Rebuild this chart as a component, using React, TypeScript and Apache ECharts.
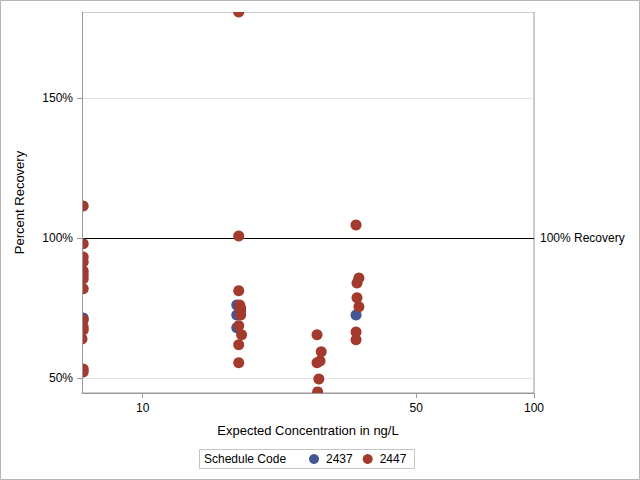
import React, { useEffect, useRef } from "react";
import * as echarts from "echarts";

const seriesNames = ["2437", "2447"];
const seriesColors = ["#445694", "#A23A2E"];

// Schedule 2437
const conc2437 = [7.05, 17.4, 17.4, 17.4, 35.1];
const recov2437 = [71.4, 76.0, 72.5, 67.9, 72.5];

// Schedule 2447
const conc2447 = [
  7.05, 7.05, 7.05, 7.05, 7.05, 7.05, 7.05, 7.05, 7.05, 7.05, 7.05, 7.0, 7.05, 7.05,
  17.6, 17.6, 17.6, 17.7, 17.8, 17.8, 17.8, 17.6, 17.9, 17.6, 17.6,
  27.9, 28.6, 28.4, 27.9, 28.2, 28.0,
  35.1, 35.7, 35.3, 35.3, 35.7, 35.1, 35.1,
];
const recov2447 = [
  111.4, 97.9, 93.2, 91.4, 88.2, 86.8, 85.4, 81.8, 70.7, 68.2, 67.1, 63.9, 53.2, 52.1,
  180.7, 100.7, 81.1, 76.0, 75.0, 74.0, 72.5, 68.6, 65.4, 61.8, 55.4,
  65.4, 59.3, 56.0, 55.4, 49.6, 45.0,
  104.6, 85.7, 83.9, 78.6, 75.4, 66.4, 63.6,
];

const xMin = 7;
const xMax = 100;
const xTicks = [10, 50, 100];
const yMin = 44.6;
const yMax = 180.7;
const yTicks = [50, 100, 150];
const referenceValue = 100;
const referenceLabel = "100% Recovery";
const xTitle = "Expected Concentration in ng/L";
const yTitle = "Percent Recovery";
const legendTitle = "Schedule Code";

const FONT = "'Liberation Sans', Arial, sans-serif";
const AXIS_GRAY = "#9a9a9a";

const GRID_LEFT = 82;
const GRID_TOP = 12;
const GRID_W = 452;
const GRID_H = 381;

export default function App() {
  const ref = useRef<HTMLDivElement>(null);

  useEffect(() => {
    if (!ref.current) return;
    const chart = echarts.init(ref.current, undefined, { renderer: "svg" });
    const toPts = (xs: number[], ys: number[]) => xs.map((x, i) => [Math.log10(x), ys[i]]);
    const mask = (x: number, y: number, w: number, h: number) => ({
      type: "rect",
      silent: true,
      z: 5,
      shape: { x, y, width: w, height: h },
      style: { fill: "#fff", stroke: "none" },
    });

    chart.setOption({
      animation: false,
      backgroundColor: "#fff",
      textStyle: { fontFamily: FONT },
      grid: {
        left: GRID_LEFT,
        top: GRID_TOP,
        width: GRID_W,
        height: GRID_H,
        show: true,
        borderColor: AXIS_GRAY,
        borderWidth: 1,
        backgroundColor: "transparent",
      },
      xAxis: {
        type: "value",
        z: 10,
        min: Math.log10(xMin),
        max: Math.log10(xMax),
        name: xTitle,
        nameLocation: "middle",
        nameGap: 31,
        nameTextStyle: { fontSize: 13, color: "#000", fontFamily: FONT },
        axisLine: { show: true, lineStyle: { color: AXIS_GRAY } },
        axisTick: { show: true, length: 5, lineStyle: { color: AXIS_GRAY }, customValues: xTicks.map((v) => Math.log10(v)) },
        axisLabel: {
          customValues: xTicks.map((v) => Math.log10(v)),
          formatter: (v: number) => String(Math.round(Math.pow(10, v))),
          fontSize: 12,
          color: "#000",
          margin: 9,
          fontFamily: FONT,
        },
        splitLine: { show: false },
      },
      yAxis: {
        type: "value",
        z: 10,
        min: yMin,
        max: yMax,
        name: yTitle,
        nameLocation: "middle",
        nameGap: 56,
        nameTextStyle: { fontSize: 13, color: "#000", fontFamily: FONT },
        axisLine: { show: true, lineStyle: { color: AXIS_GRAY } },
        axisTick: { show: true, length: 5, lineStyle: { color: AXIS_GRAY }, customValues: yTicks },
        axisLabel: {
          customValues: yTicks,
          formatter: (v: number) => `${v}%`,
          fontSize: 12,
          color: "#000",
          margin: 9,
          fontFamily: FONT,
        },
        splitLine: { show: false },
      },
      legend: {
        z: 10,
        data: seriesNames,
        left: 309,
        top: 453,
        padding: 0,
        itemWidth: 14,
        itemHeight: 10,
        itemGap: 10,
        icon: "circle",
        textStyle: { fontSize: 12, color: "#000", fontFamily: FONT },
      },
      graphic: [
        // white masks that clip the markers to the plot area
        mask(0, 0, GRID_LEFT, 480),
        mask(0, 0, 640, GRID_TOP),
        mask(0, GRID_TOP + GRID_H + 1, 640, 480 - GRID_TOP - GRID_H - 1),
        {
          type: "rect",
          silent: true,
          z: 10,
          shape: { x: 0.5, y: 0.5, width: 639, height: 479 },
          style: { fill: "none", stroke: "#b4b4b4", lineWidth: 1 },
        },
        {
          type: "rect",
          silent: true,
          z: 10,
          shape: { x: 199.5, y: 449.5, width: 215, height: 19 },
          style: { fill: "none", stroke: "#c4c4c4", lineWidth: 1 },
        },
        {
          type: "text",
          silent: true,
          z: 10,
          x: 204,
          y: 459,
          style: {
            text: legendTitle,
            fontSize: 12,
            fill: "#000",
            fontFamily: FONT,
            verticalAlign: "middle",
            align: "left",
          },
        },
      ],
      series: [
        {
          name: seriesNames[0],
          type: "scatter",
          symbol: "circle",
          symbolSize: 11,
          itemStyle: { color: seriesColors[0], opacity: 1 },
          data: toPts(conc2437, recov2437),
          clip: true,
          z: 2,
          // light horizontal grid lines at the y ticks (except the reference line)
          markLine: {
            silent: true,
            z: 1,
            symbol: ["none", "none"],
            data: yTicks.filter((v) => v !== referenceValue).map((v) => ({ yAxis: v })),
            lineStyle: { color: "#e4e4e4", width: 1, type: "solid" },
            label: { show: false },
          },
        },
        {
          name: seriesNames[1],
          type: "scatter",
          symbol: "circle",
          symbolSize: 11,
          itemStyle: { color: seriesColors[1], opacity: 1 },
          data: toPts(conc2447, recov2447),
          clip: true,
          z: 3,
          markLine: {
            silent: true,
            z: 1,
            symbol: ["none", "none"],
            data: [{ yAxis: referenceValue }],
            lineStyle: { color: "#000", width: 1, type: "solid" },
            label: {
              show: true,
              position: "end",
              formatter: referenceLabel,
              color: "#000",
              fontSize: 12,
              distance: 6,
              fontFamily: FONT,
            },
          },
        },
      ],
    });
    return () => chart.dispose();
  }, []);

  return (
    <div
      ref={ref}
      style={{ position: "absolute", left: 0, top: 0, width: 640, height: 480 }}
    />
  );
}
